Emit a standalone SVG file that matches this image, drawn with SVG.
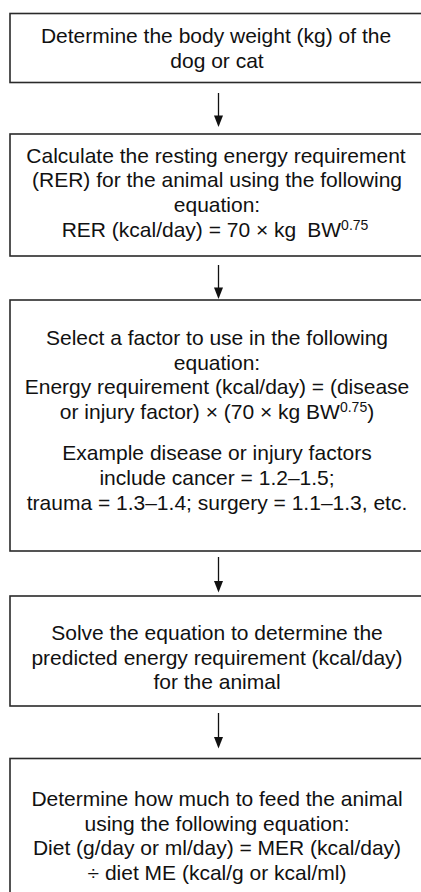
<svg xmlns="http://www.w3.org/2000/svg" width="421" height="892" viewBox="0 0 421 892">
  <style>
    .box { fill: #ffffff; stroke: #2a2a2a; stroke-width: 1.6; }
    .lbl { font-family: "Liberation Sans", Arial, Helvetica, sans-serif; font-size: 21px; fill: #111111; text-anchor: middle; }
    .sup { font-size: 14px; }
    .link { stroke: #111111; stroke-width: 1.3; fill: none; }
    .head { fill: #111111; }
  </style>
  <rect width="421" height="892" fill="#ffffff"/>

  <g id="weight">
    <rect class="box" x="10" y="13.5" width="420" height="69"/>
    <text class="lbl" x="216" y="43">Determine the body weight (kg) of the</text>
    <text class="lbl" x="217" y="68">dog or cat</text>
  </g>

  <g id="rer">
    <rect class="box" x="10" y="134" width="420" height="122"/>
    <text class="lbl" x="216" y="163">Calculate the resting energy requirement</text>
    <text class="lbl" x="217" y="187">(RER) for the animal using the following</text>
    <text class="lbl" x="217" y="212">equation:</text>
    <text class="lbl" x="215" y="237">RER (kcal/day) = 70 × kg<tspan dx="11">BW</tspan><tspan class="sup" dy="-7">0.75</tspan></text>
  </g>

  <g id="factor">
    <rect class="box" x="10" y="300" width="420" height="251"/>
    <text class="lbl" x="217" y="345">Select a factor to use in the following</text>
    <text class="lbl" x="217" y="370">equation:</text>
    <text class="lbl" x="217" y="394">Energy requirement (kcal/day) = (disease</text>
    <text class="lbl" x="217" y="419">or injury factor) × (70 × kg BW<tspan class="sup" dy="-7">0.75</tspan><tspan dy="7">)</tspan></text>
    <text class="lbl" x="217" y="460">Example disease or injury factors</text>
    <text class="lbl" x="217" y="485">include cancer = 1.2–1.5;</text>
    <text class="lbl" x="217" y="510">trauma = 1.3–1.4; surgery = 1.1–1.3, etc.</text>
  </g>

  <g id="solve">
    <rect class="box" x="10" y="596" width="420" height="110"/>
    <text class="lbl" x="217" y="640">Solve the equation to determine the</text>
    <text class="lbl" x="217" y="665">predicted energy requirement (kcal/day)</text>
    <text class="lbl" x="217" y="689">for the animal</text>
  </g>

  <g id="feed">
    <rect class="box" x="10" y="758.5" width="420" height="150"/>
    <text class="lbl" x="217" y="806">Determine how much to feed the animal</text>
    <text class="lbl" x="217" y="831">using the following equation:</text>
    <text class="lbl" x="217" y="855">Diet (g/day or ml/day) = MER (kcal/day)</text>
    <text class="lbl" x="217" y="880">÷ diet ME (kcal/g or kcal/ml)</text>
  </g>

  <g id="connectors">
    <line class="link" x1="218.5" y1="93" x2="218.5" y2="116"/>
    <path class="head" d="M214,115.5 L223,115.5 L218.5,127 Z"/>
    <line class="link" x1="218.5" y1="265" x2="218.5" y2="288"/>
    <path class="head" d="M214,287.5 L223,287.5 L218.5,299 Z"/>
    <line class="link" x1="218.5" y1="557" x2="218.5" y2="582"/>
    <path class="head" d="M214,581 L223,581 L218.5,592.5 Z"/>
    <line class="link" x1="218.5" y1="713" x2="218.5" y2="738"/>
    <path class="head" d="M214,737 L223,737 L218.5,748.5 Z"/>
  </g>
</svg>
